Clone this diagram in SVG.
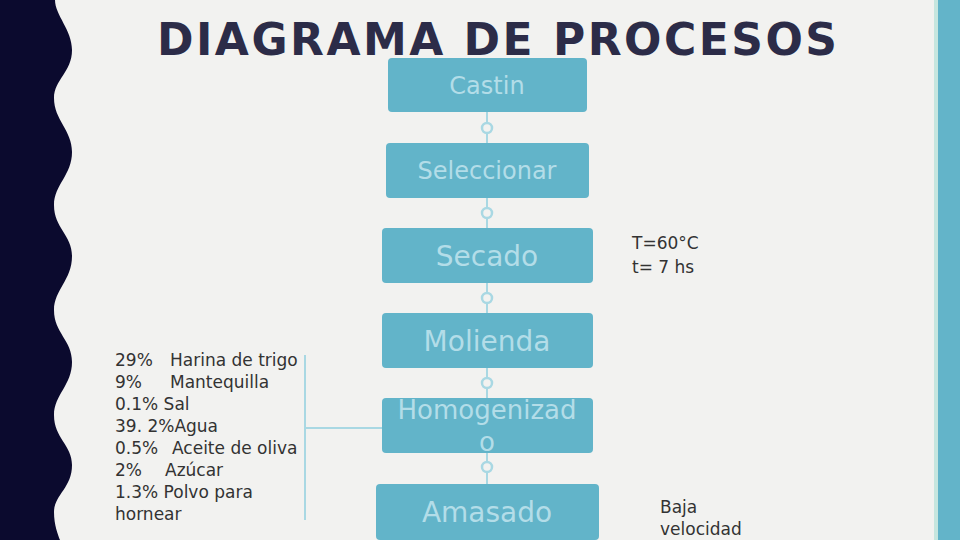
<svg xmlns="http://www.w3.org/2000/svg" width="960" height="540" viewBox="0 0 960 540">
<style>
.box{fill:#62b4c9;}
.bt{font-family:"DejaVu Sans",sans-serif;font-size:28px;fill:#b3dde8;text-anchor:middle;}
.bs{font-size:24px;}
.bh{font-size:26px;}
.note{font-family:"DejaVu Sans",sans-serif;font-size:17px;fill:#333333;}
.con{fill:none;stroke:#a9d8e3;stroke-width:2;}
.dot{fill:#f2f2f0;stroke:#a9d8e3;stroke-width:2.5;}
</style>
<rect width="960" height="540" fill="#f2f2f0"/>
<path d="M0,0 L55,0 C55,15 72,30 72,50 C72,72 54,80 54,98 C54,120 72,130 72,152 C72,175 54,185 54,205 C54,228 72,235 72,256 C72,280 54,290 54,310 C54,333 72,340 72,362 C72,385 54,395 54,415 C54,438 72,445 72,465 C72,488 54,495 54,512 C54,525 58,535 60,540 L0,540 Z" fill="#0b0a2e"/>
<rect x="934" y="0" width="4" height="540" fill="#c6e6df"/>
<rect x="938" y="0" width="22" height="540" fill="#63b4c9"/>
<text x="497" y="55" font-family="'DejaVu Sans',sans-serif" font-weight="bold" font-size="44" fill="#2c2c48" text-anchor="middle" textLength="680" lengthAdjust="spacing">DIAGRAMA DE PROCESOS</text>
<g id="connectors">
<line class="con" x1="487" y1="112" x2="487" y2="484"/>
<circle class="dot" cx="487" cy="128" r="5"/>
<circle class="dot" cx="487" cy="213" r="5"/>
<circle class="dot" cx="487" cy="298" r="5"/>
<circle class="dot" cx="487" cy="383" r="5"/>
<circle class="dot" cx="487" cy="467" r="5"/>
<path class="con" d="M305,355 L305,520 M305,428 L382,428"/>
</g>
<g id="n1"><rect class="box" x="388" y="58" width="199" height="54" rx="4"/><text class="bt bs" x="487" y="94">Castin</text></g>
<g id="n2"><rect class="box" x="386" y="143" width="203" height="55" rx="4"/><text class="bt bs" x="487" y="179">Seleccionar</text></g>
<g id="n3"><rect class="box" x="382" y="228" width="211" height="55" rx="4"/><text class="bt" x="487" y="266">Secado</text></g>
<g id="n4"><rect class="box" x="382" y="313" width="211" height="55" rx="4"/><text class="bt" x="487" y="351">Molienda</text></g>
<g id="n5"><rect class="box" x="382" y="398" width="211" height="55" rx="4"/><text class="bt bh" x="487" y="419">Homogenizad</text><text class="bt bh" x="487" y="451">o</text></g>
<g id="n6"><rect class="box" x="376" y="484" width="223" height="56" rx="4"/><text class="bt" x="487" y="522">Amasado</text></g>
<g id="notes">
<text class="note" x="632" y="249">T=60°C</text>
<text class="note" x="632" y="273">t= 7 hs</text>
<text class="note" x="660" y="513">Baja</text>
<text class="note" x="660" y="535">velocidad</text>
<text class="note" x="115" y="366">29%<tspan x="170">Harina de trigo</tspan></text>
<text class="note" x="115" y="388">9%<tspan x="170">Mantequilla</tspan></text>
<text class="note" x="115" y="410">0.1% Sal</text>
<text class="note" x="115" y="432">39. 2%Agua</text>
<text class="note" x="115" y="454">0.5%<tspan x="172">Aceite de oliva</tspan></text>
<text class="note" x="115" y="476">2%<tspan x="165">Azúcar</tspan></text>
<text class="note" x="115" y="498">1.3% Polvo para</text>
<text class="note" x="115" y="520">hornear</text>
</g>
</svg>
